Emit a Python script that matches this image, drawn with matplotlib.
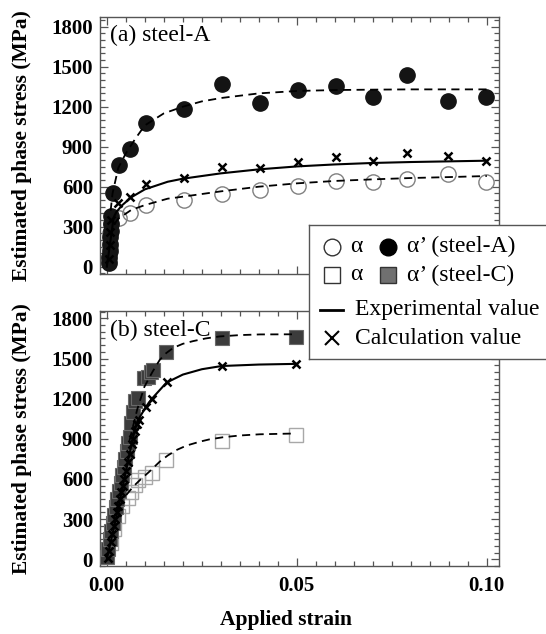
import matplotlib
matplotlib.use('Agg')
import matplotlib.pyplot as plt
from matplotlib.ticker import MultipleLocator

plt.rcParams['font.family'] = ['Liberation Serif', 'DejaVu Serif']

# ---- (a) steel-A ----
# alpha' (filled circles)
a_am_x = [0.0005, 0.0006, 0.0007, 0.0008, 0.0009, 0.0010, 0.0011, 0.0012,
          0.0015, 0.0032, 0.0060, 0.0102, 0.0204, 0.0304, 0.0403, 0.0502,
          0.0603, 0.0700, 0.0790, 0.0897, 0.0999]
a_am_y = [25, 70, 120, 170, 220, 270, 320, 380,
          550, 760, 880, 1080, 1180, 1370, 1230, 1325,
          1355, 1275, 1438, 1245, 1275]
# alpha (open circles)
a_af_x = [0.0005, 0.0007, 0.0009, 0.0011, 0.0033, 0.0062, 0.0102, 0.0204,
          0.0304, 0.0403, 0.0502, 0.0603, 0.0700, 0.0790, 0.0897, 0.0999]
a_af_y = [50, 150, 250, 330, 362, 405, 462, 500,
          542, 575, 607, 643, 637, 658, 695, 637]
# calculation (crosses)
a_calc_x = [0.0005, 0.0007, 0.0009, 0.0011, 0.0029, 0.0060, 0.0103, 0.0204,
            0.0304, 0.0403, 0.0502, 0.0603, 0.0700, 0.0790, 0.0897, 0.0999]
a_calc_y = [60, 160, 260, 350, 475, 525, 622, 667,
            750, 737, 783, 820, 795, 855, 832, 795]
# experimental curve (solid)
a_exp_x = [0.0, 0.0018, 0.0025, 0.0040, 0.0064, 0.0100, 0.0160, 0.0200,
           0.0300, 0.0400, 0.0500, 0.0600, 0.0700, 0.0800, 0.0900, 0.1000]
a_exp_y = [0, 370, 410, 460, 520, 580, 637, 660,
           700, 730, 752, 767, 778, 785, 790, 795]
# fitted curves (dashed)
a_fit_am_x = [0.0010, 0.0015, 0.0030, 0.0050, 0.0075, 0.0100, 0.0150, 0.0200,
              0.0250, 0.0300, 0.0400, 0.0500, 0.0600, 0.0700, 0.0800, 0.1000]
a_fit_am_y = [420, 550, 740, 850, 960, 1060, 1150, 1200,
              1240, 1265, 1300, 1318, 1325, 1328, 1330, 1330]
a_fit_af_x = [0.0020, 0.0030, 0.0064, 0.0100, 0.0160, 0.0200, 0.0300, 0.0400,
              0.0500, 0.0600, 0.0700, 0.0800, 0.0900, 0.1000]
a_fit_af_y = [320, 360, 425, 462, 510, 525, 565, 600,
              625, 643, 655, 665, 672, 680]

# ---- (b) steel-C ----
c_am_x = [0.0000, 0.0004, 0.0008, 0.0012, 0.0016, 0.0020, 0.0024, 0.0028,
          0.0032, 0.0036, 0.0040, 0.0044, 0.0048, 0.0052, 0.0056, 0.0060,
          0.0064, 0.0069, 0.0075, 0.0082, 0.0099, 0.0109, 0.0117, 0.0122,
          0.0156, 0.0302, 0.0497]
c_am_y = [20, 80, 150, 210, 270, 330, 390, 450,
          510, 570, 630, 690, 750, 810, 868, 916,
          1016, 1100, 1180, 1203, 1352, 1361, 1401, 1416,
          1551, 1653, 1658]
c_af_x = [0.0010, 0.0020, 0.0030, 0.0040, 0.0055, 0.0064, 0.0073, 0.0082,
          0.0100, 0.0118, 0.0155, 0.0302, 0.0497]
c_af_y = [120, 230, 320, 400, 455, 505, 555, 590,
          612, 647, 745, 885, 925]
c_calc_x = [0.0002, 0.0006, 0.0011, 0.0014, 0.0018, 0.0022, 0.0026, 0.0030,
            0.0034, 0.0038, 0.0042, 0.0046, 0.0051, 0.0056, 0.0060, 0.0065,
            0.0069, 0.0074, 0.0079, 0.0085, 0.0104, 0.0118, 0.0157, 0.0302,
            0.0497]
c_calc_y = [10, 60, 130, 190, 250, 300, 350, 400,
            450, 500, 545, 600, 660, 730, 790, 860,
            900, 960, 1010, 1040, 1140, 1197, 1321, 1446,
            1459]
c_exp_x = [0.0, 0.0025, 0.0042, 0.0060, 0.0073, 0.0082, 0.0103, 0.0117,
           0.0157, 0.0200, 0.0250, 0.0302, 0.0400, 0.0497]
c_exp_y = [0, 318, 542, 792, 960, 1040, 1140, 1195,
           1320, 1380, 1420, 1444, 1455, 1460]
c_fit_am_x = [0.0060, 0.0080, 0.0099, 0.0120, 0.0139, 0.0156, 0.0175, 0.0200,
              0.0227, 0.0260, 0.0297, 0.0350, 0.0403, 0.0497]
c_fit_am_y = [891, 1120, 1290, 1400, 1489, 1540, 1580, 1610,
              1630, 1650, 1665, 1675, 1680, 1681]
c_fit_af_x = [0.0051, 0.0070, 0.0090, 0.0110, 0.0139, 0.0160, 0.0183, 0.0210,
              0.0245, 0.0270, 0.0306, 0.0350, 0.0403, 0.0497]
c_fit_af_y = [480, 545, 600, 650, 729, 775, 816, 850,
              879, 896, 912, 925, 934, 940]

W, H = 546, 634
fig = plt.figure(figsize=(W / 100, H / 100), dpi=100)

spine_col = '#555555'
dash = (0, (4.5, 3))


def style_axes(ax, ylim):
    ax.set_xlim(-0.0018, 0.1032)
    ax.set_ylim(*ylim)
    ax.xaxis.set_major_locator(MultipleLocator(0.05))
    ax.xaxis.set_minor_locator(MultipleLocator(0.005))
    ax.yaxis.set_major_locator(MultipleLocator(300))
    ax.yaxis.set_minor_locator(MultipleLocator(50))
    ax.tick_params(which='both', direction='in', top=True, right=True,
                   color=spine_col, width=0.9)
    ax.tick_params(which='major', length=6, labelsize=15, pad=5)
    ax.tick_params(which='minor', length=3.5)
    for s in ax.spines.values():
        s.set_color(spine_col)
        s.set_linewidth(1.0)
    for lab in ax.get_yticklabels() + ax.get_xticklabels():
        lab.set_fontweight('bold')
    ax.set_ylabel('Estimated phase stress (MPa)', fontsize=15.5, fontweight='bold')
    ax.yaxis.set_label_coords(-0.17, 0.5)


# painel (a)
ax1 = fig.add_axes([100 / W, 1 - 274 / H, 399 / W, 257 / H])
ax1.plot(a_af_x, a_af_y, 'o', ms=11, mfc='none', mec='#808080', mew=1.0, zorder=2)
ax1.plot(a_am_x, a_am_y, 'o', ms=11, mfc='#141414', mec='#141414', zorder=3)
ax1.plot(a_fit_am_x, a_fit_am_y, color='black', lw=1.3, ls=dash, zorder=4)
ax1.plot(a_fit_af_x, a_fit_af_y, color='black', lw=1.3, ls=dash, zorder=4)
ax1.plot(a_exp_x, a_exp_y, color='black', lw=1.5, zorder=4)
ax1.plot(a_calc_x, a_calc_y, 'x', ms=6, mec='black', mew=1.8, zorder=5)
style_axes(ax1, (-55, 1873))
ax1.tick_params(labelbottom=False)
ax1.text(0.025, 0.93, '(a) steel-A', transform=ax1.transAxes, fontsize=17,
         va='center', ha='left')

# painel (b)
ax2 = fig.add_axes([100 / W, 1 - 566 / H, 399 / W, 255 / H])
ax2.plot(c_af_x, c_af_y, 's', ms=10.5, mfc='none', mec='#a8a8a8', mew=1.0, zorder=2)
ax2.plot(c_am_x, c_am_y, 's', ms=10.5, mfc='#3c3c3c', mec='#6a6a6a', mew=0.8, zorder=3)
ax2.plot(c_fit_am_x, c_fit_am_y, color='black', lw=1.3, ls=dash, zorder=4)
ax2.plot(c_fit_af_x, c_fit_af_y, color='black', lw=1.3, ls=dash, zorder=4)
ax2.plot(c_exp_x, c_exp_y, color='black', lw=1.5, zorder=4)
ax2.plot(c_calc_x, c_calc_y, 'x', ms=6, mec='black', mew=1.8, zorder=5)
style_axes(ax2, (-50, 1855))
ax2.xaxis.set_major_formatter(plt.FuncFormatter(lambda v, p: '%.2f' % v))
for lab in ax2.get_xticklabels():
    lab.set_fontweight('bold')
ax2.tick_params(axis='x', pad=7)
ax2.text(0.025, 0.925, '(b) steel-C', transform=ax2.transAxes, fontsize=17,
         va='center', ha='left')

fig.text(286 / W, 1 - 620 / H, 'Applied strain', fontsize=15.5, fontweight='bold',
         ha='center', va='center')

# legenda desenhada a mao (caixa sobre os dois paineis)
lw_, lh_ = 237, 134
lax = fig.add_axes([309 / W, 1 - 359 / H, lw_ / W, lh_ / H], zorder=10)
lax.set_xlim(0, lw_)
lax.set_ylim(lh_, 0)
lax.set_xticks([])
lax.set_yticks([])
for s in lax.spines.values():
    s.set_color(spine_col)
    s.set_linewidth(1.0)
lax.spines['right'].set_visible(False)

fs = 17
r1, r2, r3, r4 = 21.7, 50, 85, 113.3
lax.plot([22.7], [r1], 'o', ms=12, mfc='white', mec='#333333', mew=1.0)
lax.text(47.7, r1, 'α', fontsize=fs, ha='center', va='center')
lax.plot([79.3], [r1], 'o', ms=12, mfc='black', mec='black')
lax.text(97.7, r1, 'α’ (steel-A)', fontsize=fs, ha='left', va='center')
lax.plot([22.7], [r2], 's', ms=11, mfc='white', mec='#333333', mew=1.0)
lax.text(47.7, r2, 'α', fontsize=fs, ha='center', va='center')
lax.plot([79.3], [r2], 's', ms=11, mfc='#707070', mec='#333333', mew=1.0)
lax.text(97.7, r2, 'α’ (steel-C)', fontsize=fs, ha='left', va='center')
lax.plot([11, 34], [r3, r3], color='black', lw=2)
lax.text(46, r3, 'Experimental value', fontsize=fs, ha='left', va='center')
lax.plot([22.7], [r4], 'x', ms=10, mec='black', mew=1.5)
lax.text(46, r4, 'Calculation value', fontsize=fs, ha='left', va='center')

fig.savefig('out.png', dpi=100)
